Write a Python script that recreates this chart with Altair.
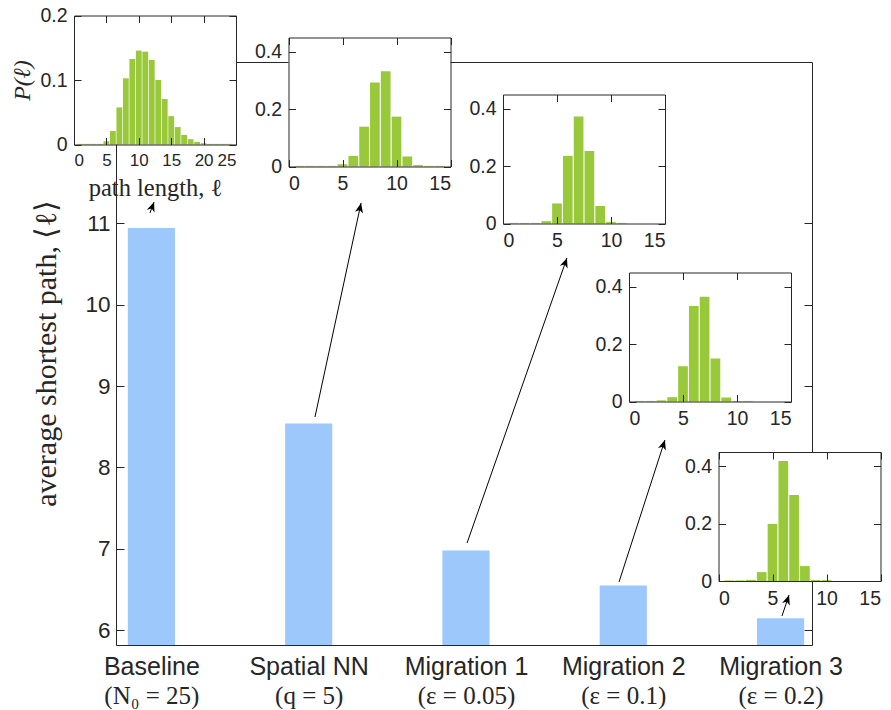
import json
import math
import altair as alt
import pandas as pd

# ---------------- data ----------------
categories = ["Baseline", "Spatial NN", "Migration 1", "Migration 2", "Migration 3"]
params = ["(N\u2080 = 25)", "(q = 5)", "(\u03b5 = 0.05)", "(\u03b5 = 0.1)", "(\u03b5 = 0.2)"]
avg_path = [10.94, 8.54, 6.98, 6.55, 6.15]
y_ticks = [6, 7, 8, 9, 10, 11]

hist1_len = list(range(1, 25))
hist1_p = [0.001, 0.001, 0.001, 0.001, 0.005, 0.021, 0.0575, 0.1026, 0.1326, 0.1456,
           0.144, 0.131, 0.100, 0.0705, 0.044, 0.027, 0.015, 0.0083, 0.004, 0.002,
           0.001, 0.001, 0.001, 0.001]
hist2_len = list(range(1, 15))
hist2_p = [0.002, 0.002, 0.002, 0.002, 0.008, 0.037, 0.139, 0.293, 0.332, 0.174,
           0.035, 0.005, 0.002, 0.002]
hist3_len = list(range(1, 12))
hist3_p = [0.002, 0.002, 0.002, 0.008, 0.070, 0.236, 0.373, 0.253, 0.061, 0.005, 0.002]
hist4_len = list(range(1, 12))
hist4_p = [0.002, 0.002, 0.004, 0.015, 0.123, 0.333, 0.365, 0.150, 0.014, 0.002, 0.002]
hist5_len = list(range(1, 11))
hist5_p = [0.002, 0.002, 0.004, 0.031, 0.199, 0.419, 0.300, 0.052, 0.003, 0.003]

# arrows (main-axes data coordinates): from bar to its inset
arrow_x0 = [0.991, 2.040, 3.007, 3.973, 5.009]
arrow_y0 = [11.126, 8.620, 7.073, 6.594, 6.176]
arrow_x1 = [1.017, 2.333, 3.642, 4.265, 5.054]
arrow_y1 = [11.261, 11.248, 10.573, 8.338, 6.434]

# ---------------- layout / style ----------------
MW, MH = 696, 583
XMIN, XMAX = 0.775, 5.2
YMIN, YMAX = 5.82, 12.98
IW, IH = 162, 129
AX = "#262626"
SANS = "Liberation Sans"
SERIF = "Liberation Serif"
BLUE = "#9cc8fc"
GREEN = "#99c93a"

insets = [
    dict(len=hist1_len, p=hist1_p, left=-42, bottom=82.5, xdom=[0, 25], ydom=[0, 0.2],
         xt=[0, 5, 10, 15, 20, 25], yt=[0, 0.1, 0.2]),
    dict(len=hist2_len, p=hist2_p, left=172.5, bottom=104.5, xdom=[0, 15], ydom=[0, 0.45],
         xt=[0, 5, 10, 15], yt=[0, 0.2, 0.4]),
    dict(len=hist3_len, p=hist3_p, left=387, bottom=161.5, xdom=[0, 15], ydom=[0, 0.45],
         xt=[0, 5, 10, 15], yt=[0, 0.2, 0.4]),
    dict(len=hist4_len, p=hist4_p, left=513, bottom=339.5, xdom=[0, 15], ydom=[0, 0.45],
         xt=[0, 5, 10, 15], yt=[0, 0.2, 0.4]),
    dict(len=hist5_len, p=hist5_p, left=602.5, bottom=519, xdom=[0, 15], ydom=[0, 0.45],
         xt=[0, 5, 10, 15], yt=[0, 0.2, 0.4]),
]


def axis(orient, offset, values, labels=False, ticks=False, domain=False, z=1, tick=7, **kw):
    d = dict(orient=orient, offset=offset, values=values, labels=labels, ticks=ticks,
             domain=domain, grid=False, zindex=z, tickColor=AX, domainColor=AX,
             labelColor=AX, tickWidth=1, domainWidth=1, labelOverlap=False)
    d["tickSize"] = tick if ticks else 0
    if "title" not in kw:
        d["title"] = None
    d.update(kw)
    return alt.Axis(**d)


layers = []

# ---------------- main chart ----------------
main = pd.DataFrame({"pos": list(range(1, len(categories) + 1)), "cat": categories,
                     "val": avg_path, "base": YMIN})
xs_m = alt.Scale(domain=[XMIN, XMAX], range=[0, MW], nice=False, zero=False)
ys_m = alt.Scale(domain=[YMIN, YMAX], range=[MH, 0], nice=False, zero=False)
pos_vals = main["pos"].tolist()
cat_expr = json.dumps(categories, ensure_ascii=False) + "[datum.value - 1]"
par_expr = json.dumps(params, ensure_ascii=False) + "[datum.value - 1]"

bars = alt.Chart(main).transform_calculate(
    x0="datum.pos - 0.15", x1="datum.pos + 0.15"
).mark_rect(color=BLUE).encode(
    x=alt.X("x0:Q", scale=xs_m,
            axis=axis("bottom", 0, pos_vals, labels=True, domain=True, z=1,
                      labelExpr=cat_expr, labelFont=SANS, labelFontSize=25,
                      labelPadding=9)),
    x2="x1:Q",
    y=alt.Y("val:Q", scale=ys_m,
            axis=axis("left", 0, y_ticks, labels=True, domain=True, z=0,
                      format="d", labelFont=SANS, labelFontSize=22.5, labelPadding=6,
                      title="average shortest path, \u27e8\u2113\u27e9",
                      titleFont=SERIF, titleFontSize=30, titleFontWeight="normal",
                      titleColor=AX, titleX=-70, titleY=291, titleAngle=-90,
                      titleAlign="center", titleBaseline="middle")),
    y2="base:Q",
)
layers.append(bars)

second = alt.Chart(main).mark_point(opacity=0).encode(
    x=alt.X("pos:Q", scale=xs_m,
            axis=axis("bottom", 29, pos_vals, labels=True, z=1, labelExpr=par_expr,
                      labelFont=SERIF, labelFontSize=25, labelPadding=9)),
    y=alt.Y("val:Q", scale=ys_m,
            axis=axis("right", -MW, y_ticks, ticks=True, z=0, tick=8)),
)
layers.append(second)

frame = alt.Chart(main).mark_point(opacity=0).encode(
    x=alt.X("pos:Q", scale=xs_m, axis=axis("top", 0, pos_vals, domain=True, z=0)),
    y=alt.Y("val:Q", scale=ys_m,
            axis=axis("left", -MW, y_ticks, ticks=True, domain=True, z=0, tick=8)),
)
layers.append(frame)

# ---------------- arrows ----------------
def px(x):
    return (x - XMIN) / (XMAX - XMIN) * MW


def py(y):
    return (YMAX - y) / (YMAX - YMIN) * MH


arrows = pd.DataFrame({"x0": arrow_x0, "y0": arrow_y0, "x1": arrow_x1, "y1": arrow_y1})
arrows["angle"] = [
    math.degrees(math.atan2(px(b) - px(a), py(c) - py(d)))
    for a, b, c, d in zip(arrow_x0, arrow_x1, arrow_y0, arrow_y1)
]
shafts = alt.Chart(arrows).mark_rule(color="black", strokeWidth=1).encode(
    x=alt.X("x0:Q", scale=xs_m, axis=None), x2="x1:Q",
    y=alt.Y("y0:Q", scale=ys_m, axis=None), y2="y1:Q",
)
heads = alt.Chart(arrows).mark_point(
    shape="M0,0L0.42,1L0,0.72L-0.42,1Z", filled=True, color="black", size=380,
    opacity=1, strokeWidth=0,
).encode(
    x=alt.X("x1:Q", scale=xs_m, axis=None),
    y=alt.Y("y1:Q", scale=ys_m, axis=None),
    angle=alt.Angle("angle:Q", scale=None),
)
layers += [shafts, heads]

# ---------------- insets ----------------
for i, g in enumerate(insets):
    L, B = g["left"], g["bottom"]
    T, R = B - IH, L + IW
    xs = alt.Scale(domain=g["xdom"], range=[L, R], nice=False, zero=False)
    ys = alt.Scale(domain=g["ydom"], range=[B, T], nice=False, zero=False)
    box = pd.DataFrame({"x0": [g["xdom"][0]], "x1": [g["xdom"][1]],
                        "y0": [g["ydom"][0]], "y1": [g["ydom"][1]]})
    hist = pd.DataFrame({"l": g["len"], "p": g["p"], "zero": 0.0})

    xkw = dict(labelFont=SANS, labelFontSize=19.5, labelPadding=8, format="d")
    ykw = dict(labelFont=SANS, labelFontSize=19.5, labelPadding=7, format="~g")
    if i == 0:
        xkw.update(labelFlush=True, labelFontSize=17, title="path length, \u2113",
                   titleFont=SERIF, titleFontSize=24.5, titleFontWeight="normal",
                   titleColor=AX, titleX=(L + R) / 2, titleY=44, titleAlign="center",
                   titleBaseline="middle")
        ykw.update(title="P(\u2113)", titleFont=SERIF, titleFontSize=24,
                   titleFontStyle="italic", titleFontWeight="normal", titleColor=AX,
                   titleX=-52, titleY=(B + T) / 2, titleAngle=-90,
                   titleAlign="center", titleBaseline="middle")

    bg = alt.Chart(box).mark_rect(color="white").encode(
        x=alt.X("x0:Q", scale=xs,
                axis=axis("bottom", B - MH, g["xt"], labels=True, domain=True, **xkw)),
        x2="x1:Q",
        y=alt.Y("y0:Q", scale=ys,
                axis=axis("left", -L, g["yt"], labels=True, domain=True, **ykw)),
        y2="y1:Q",
    )
    hb = alt.Chart(hist).transform_calculate(
        x0="datum.l - 0.45", x1="datum.l + 0.45"
    ).mark_rect(color=GREEN).encode(
        x=alt.X("x0:Q", scale=xs, axis=axis("top", -B, g["xt"], ticks=True)),
        x2="x1:Q",
        y=alt.Y("p:Q", scale=ys, axis=axis("right", L - MW, g["yt"], ticks=True)),
        y2="zero:Q",
    )
    edge = alt.Chart(box).mark_rect(opacity=0).encode(
        x=alt.X("x0:Q", scale=xs,
                axis=axis("bottom", T - MH, g["xt"], ticks=True, domain=True)),
        x2="x1:Q",
        y=alt.Y("y0:Q", scale=ys,
                axis=axis("left", -R, g["yt"], ticks=True, domain=True)),
        y2="y1:Q",
    )
    layers += [bg, hb, edge]

chart = alt.layer(*layers).resolve_scale(
    x="independent", y="independent"
).resolve_axis(
    x="independent", y="independent"
).properties(
    width=MW, height=MH,
    padding={"left": 108, "top": 54, "right": 70, "bottom": 64},
    autosize=alt.AutoSizeParams(type="none"),
    background="white",
).configure_view(strokeWidth=0)

chart.save("out.html", embed_options={"renderer": "svg", "actions": False})
